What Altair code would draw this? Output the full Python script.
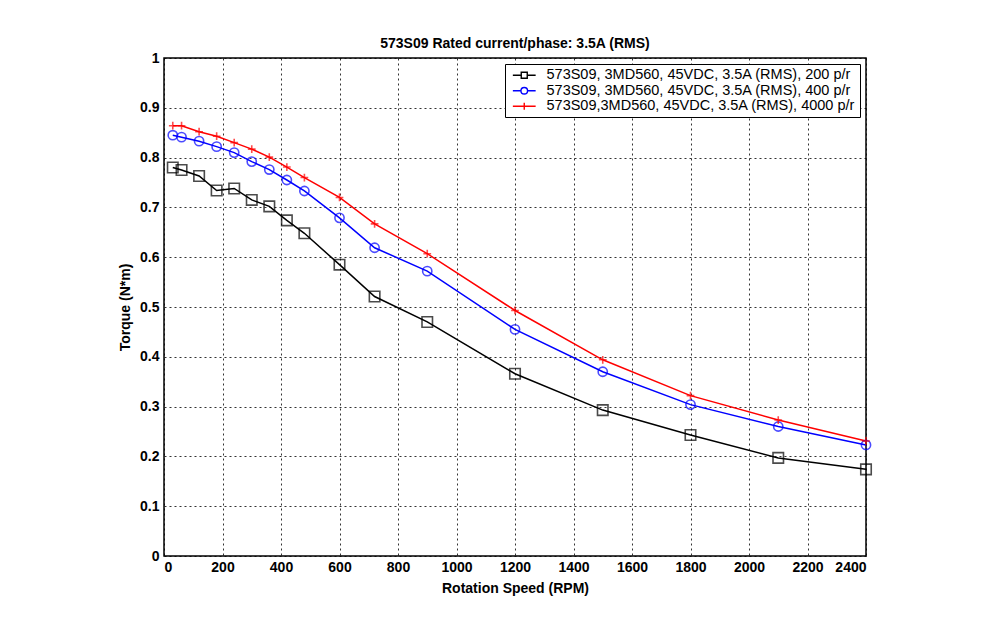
import altair as alt
import pandas as pd

speeds = [30, 60, 120, 180, 240, 300, 360, 420, 480, 600, 720, 900, 1200, 1500, 1800, 2100, 2400]
torque_200 = [0.780, 0.775, 0.763, 0.734, 0.738, 0.715, 0.702, 0.674, 0.648, 0.585, 0.521, 0.470, 0.366, 0.293, 0.243, 0.197, 0.174]
torque_400 = [0.845, 0.841, 0.833, 0.822, 0.810, 0.792, 0.776, 0.755, 0.733, 0.679, 0.619, 0.572, 0.455, 0.370, 0.304, 0.260, 0.223]
torque_4000 = [0.864, 0.864, 0.852, 0.843, 0.830, 0.817, 0.801, 0.781, 0.760, 0.720, 0.667, 0.607, 0.493, 0.394, 0.322, 0.273, 0.231]

series_names = [
    "573S09, 3MD560, 45VDC, 3.5A (RMS), 200 p/r",
    "573S09, 3MD560, 45VDC, 3.5A (RMS), 400 p/r",
    "573S09,3MD560, 45VDC, 3.5A (RMS), 4000 p/r",
]
colors = ["#000000", "#0000ff", "#ff0000"]

rows = []
for name, vals in zip(series_names, [torque_200, torque_400, torque_4000]):
    for s, v in zip(speeds, vals):
        rows.append({"speed": s, "torque": v, "series": name})
df = pd.DataFrame(rows)

plus_path = "M-1,0H1M0,-1V1"
legend_paths = [
    "M-1.9,0H-0.5M0.5,0H1.9M-0.5,-0.5H0.5V0.5H-0.5Z",
    "M-1.9,0H-0.55M0.55,0H1.9M-0.55,0A0.55,0.55,0,1,0,0.55,0A0.55,0.55,0,1,0,-0.55,0",
    "M-1.9,0H1.9M0,-0.6V0.6",
]

xenc = alt.X("speed:Q", title="Rotation Speed (RPM)",
             scale=alt.Scale(domain=[0, 2400], nice=False),
             axis=alt.Axis(values=list(range(0, 2401, 200)), format="d"))
yenc = alt.Y("torque:Q", title="Torque (N*m)",
             scale=alt.Scale(domain=[0, 1], nice=False),
             axis=alt.Axis(values=[i / 10 for i in range(11)], format="~g"))
color = alt.Color("series:N", scale=alt.Scale(domain=series_names, range=colors), legend=None)

lines = alt.Chart(df).mark_line(strokeWidth=1.5).encode(
    x=xenc, y=yenc, color=color, detail="series:N"
)

points = alt.Chart(df).mark_point(filled=False, strokeWidth=1.6).encode(
    x="speed:Q", y="torque:Q",
    color=alt.Color("series:N", scale=alt.Scale(domain=series_names, range=colors), legend=None),
    shape=alt.Shape("series:N", scale=alt.Scale(domain=series_names, range=["square", "circle", plus_path]), legend=None),
    size=alt.Size("series:N", scale=alt.Scale(domain=series_names, range=[110, 60, 90]), legend=None),
)

leg = alt.Legend(title=None, orient="none", legendX=341, legendY=6,
                 symbolOpacity=1, symbolSize=144, symbolStrokeWidth=1.4,
                 symbolFillColor="transparent",
                 labelFont="Liberation Sans", labelFontSize=14.5,
                 labelColor="#000000", labelLimit=400,
                 padding=4, rowPadding=0.5, symbolOffset=8,
                 strokeColor="#000000", fillColor="#ffffff",
                 labelOffset=15)

legend_layer = alt.Chart(df).mark_point(filled=False, size=0, strokeWidth=1.4).encode(
    x="speed:Q", y="torque:Q",
    stroke=alt.Stroke("series:N", scale=alt.Scale(domain=series_names, range=colors), legend=leg),
    shape=alt.Shape("series:N", scale=alt.Scale(domain=series_names, range=legend_paths), legend=leg),
)

chart = alt.layer(lines, points, legend_layer).resolve_scale(
    shape="independent", color="independent", stroke="independent"
).properties(
    width=702, height=498,
    title=alt.TitleParams("573S09 Rated current/phase: 3.5A (RMS)", font="Liberation Sans",
                          fontSize=14, fontWeight="bold", color="#000000", offset=0),
    autosize=alt.AutoSizeParams(type="none"),
    padding={"left": 156, "top": 50, "right": 120, "bottom": 70},
).configure_view(
    stroke="#000000", strokeWidth=1.5
).configure_axis(
    grid=True, gridColor="#000000", gridDash=[2, 3], gridWidth=1, gridOpacity=0.8,
    domain=False, ticks=False,
    labelFont="Liberation Sans", labelFontSize=14, labelFontWeight="bold",
    labelColor="#000000",
    titleFont="Liberation Sans", titleFontSize=14, titleFontWeight="bold", titleColor="#000000",
).configure_axisX(
    labelPadding=4, titlePadding=7
).configure_axisY(
    labelPadding=5, titlePadding=7
)

chart.save("out.html", embed_options={"renderer": "svg", "actions": False})
